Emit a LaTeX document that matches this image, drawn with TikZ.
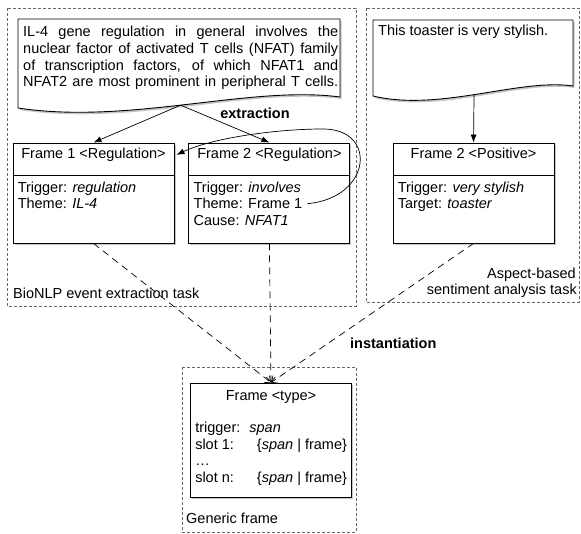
\documentclass[tikz,border=0pt]{standalone}
\usepackage{fontspec}
\setmainfont{Liberation Sans}
\usetikzlibrary{positioning,arrows.meta,shadows}

\begin{document}
\begin{tikzpicture}[x=1pt,y=-1pt,
    font=\fontsize{14.5}{16.7}\selectfont,
    taskbox/.style={draw=black!60,line width=0.8pt,dash pattern=on 3pt off 2pt},
    docbox/.style={draw,line width=0.9pt,fill=white,
        drop shadow={shadow xshift=1.5pt,shadow yshift=-2pt,fill=black!45}},
    framebox/.style={draw,line width=0.9pt,fill=white,minimum width=161pt,minimum height=100pt,inner sep=0pt,
        drop shadow={shadow xshift=1.5pt,shadow yshift=-1.5pt,fill=black!45}},
    headline/.style={anchor=base,inner sep=0pt},
    slotline/.style={anchor=base west,inner sep=0pt},
    extract/.style={line width=0.7pt,-{Latex[length=8pt,width=6pt]}},
    inst/.style={line width=0.7pt,dash pattern=on 7pt off 5pt,-{Straight Barb[length=5pt,width=9pt]}}]
    \useasboundingbox (0,0) rectangle (581,533);

    % task areas
    \draw[taskbox] (7,8) rectangle (356,306);
    \draw[taskbox] (366,8) rectangle (579,302);
    \draw[taskbox] (182,367) rectangle (356,532);
    \node[slotline] (bio-lbl) at (13,298) {BioNLP event extraction task};
    \node[anchor=base east,inner sep=0pt] (absa-lbl1) at (576,278) {Aspect-based};
    \node[anchor=base east,inner sep=0pt] (absa-lbl2) at (577,294) {sentiment analysis task};
    \node[slotline] (gen-lbl) at (186,523) {Generic frame};

    % source texts
    \draw[docbox] (18,19) -- (340,19) -- (340,97)
        .. controls (250,85) and (130,125) .. coordinate[pos=0.52] (bio-src) (18,108) -- cycle;
    \node[anchor=north west,inner sep=0pt,align=left] (bio-txt) at (23,26) {%
        \makebox[315pt][s]{IL-4 gene regulation in general involves the}\\
        \makebox[315pt][s]{nuclear factor of activated T cells (NFAT) family}\\
        \makebox[315pt][s]{of transcription factors, of which NFAT1 and}\\
        \makebox[315pt][s]{NFAT2 are most prominent in peripheral T cells.}};
    \draw[docbox] (373,20) -- (573,20) -- (573,86)
        .. controls (520,78) and (440,112) .. coordinate[pos=0.52] (absa-src) (373,96) -- cycle;
    \node[slotline] (absa-txt) at (378,35) {This toaster is very stylish.};

    % frames
    \node[framebox] (f1) at (93.5,193) {};
    \node[framebox,right=14pt of f1] (f2) {};
    \node[framebox] (fpos) at (473.5,193) {};
    \node[framebox,minimum height=114pt] (fgen) at (271,440) {};

    \draw[line width=0.9pt] ([yshift=-33pt]f1.north west) -- ([yshift=-33pt]f1.north east);
    \draw[line width=0.9pt] ([yshift=-33pt]f2.north west) -- ([yshift=-33pt]f2.north east);
    \draw[line width=0.9pt] ([yshift=-33pt]fpos.north west) -- ([yshift=-33pt]fpos.north east);

    \node[headline] (f1t) at ([yshift=-16pt]f1.north) {Frame 1 <Regulation>};
    \node[slotline] (f1trig) at ([xshift=5pt,yshift=-50pt]f1.north west) {Trigger: \textit{regulation}};
    \node[slotline] (f1theme) at ([yshift=-16.3pt]f1trig.base west) {Theme: \textit{IL-4}};

    \node[headline] (f2t) at ([yshift=-16pt]f2.north) {Frame 2 <Regulation>};
    \node[slotline] (f2trig) at ([xshift=5pt,yshift=-50pt]f2.north west) {Trigger: \textit{involves}};
    \node[slotline] (f2theme) at ([yshift=-16.3pt]f2trig.base west) {Theme: Frame 1};
    \node[slotline] (f2cause) at ([yshift=-16.3pt]f2theme.base west) {Cause: \textit{NFAT1}};

    \node[headline] (fpost) at ([yshift=-16pt]fpos.north) {Frame 2 <Positive>};
    \node[slotline] (fpostrig) at ([xshift=5pt,yshift=-50pt]fpos.north west) {Trigger: \textit{very stylish}};
    \node[slotline] (fpostarget) at ([yshift=-16.3pt]fpostrig.base west) {Target: \textit{toaster}};

    \node[headline] (fgent) at ([yshift=-18pt]fgen.north) {Frame <type>};
    \node[slotline] (fgentrig) at ([xshift=5pt,yshift=-50pt]fgen.north west) {trigger:\hspace{9pt}\textit{span}};
    \node[slotline] (fgenslot1) at ([yshift=-16.7pt]fgentrig.base west) {slot 1:\hspace{23pt}\{\textit{span} | frame\}};
    \node[slotline] (fgendots) at ([yshift=-16.7pt]fgenslot1.base west) {…};
    \node[slotline] (fgenslotn) at ([yshift=-16.7pt]fgendots.base west) {slot n:\hspace{23pt}\{\textit{span} | frame\}};

    % extraction
    \draw[extract] (bio-src) -- (f1.north);
    \draw[extract] (bio-src) -- (f2.north);
    \draw[extract] (absa-src) -- (fpos.north);
    \draw[extract] ([xshift=5pt]f2theme.east) .. controls (372,198) and (378,128) .. (322,129)
        .. controls (280,129) and (215,137) .. ([xshift=2pt]f1t -| f1.east);
    \node[anchor=base] (extr) at (255,118) {\textbf{extraction}};

    % instantiation
    \draw[inst] (f1.south) -- (fgen.north);
    \draw[inst] (f2.south) -- (fgen.north);
    \draw[inst] (fpos.south) -- (fgen.north);
    \node[slotline] (inst-lbl) at (350,348) {\textbf{instantiation}};
\end{tikzpicture}
\end{document}
